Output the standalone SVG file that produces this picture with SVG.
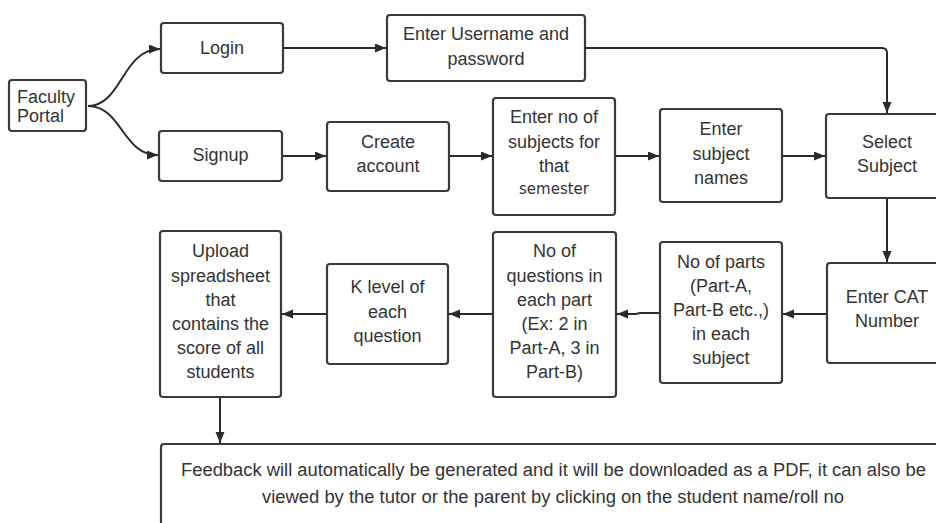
<svg xmlns="http://www.w3.org/2000/svg" width="936" height="523" viewBox="0 0 936 523">
<defs>
<marker id="arr" markerUnits="userSpaceOnUse" markerWidth="12" markerHeight="10" refX="11" refY="4.5" orient="auto">
<path d="M0,0 L11,4.5 L0,9 z" fill="#2a2a2a"/>
</marker>
<style>
.box{fill:#fff;stroke:#3a3a3a;stroke-width:2.2}
.t{font-family:"Liberation Sans",Arial,sans-serif;font-size:18px;fill:#333;text-anchor:middle}
.tl{font-family:"Liberation Sans",Arial,sans-serif;font-size:18px;fill:#333}
.sm{font-family:"DejaVu Sans",Verdana,sans-serif;font-size:15px;fill:#333;text-anchor:middle}
.c{fill:none;stroke:#2a2a2a;stroke-width:2;marker-end:url(#arr)}
</style>
</defs>
<rect width="936" height="523" fill="#fff"/>
<g id="connectors">
<path class="c" d="M88 106 C122 106 122 49 160 49"/>
<path class="c" d="M88 106 C122 106 122 155 158 155"/>
<path class="c" d="M283 48 H386"/>
<path class="c" d="M585 48 H882 Q887 48 887 53 V113"/>
<path class="c" d="M282 156 H326"/>
<path class="c" d="M449 156 H492"/>
<path class="c" d="M615 156 H659"/>
<path class="c" d="M782 156 H825"/>
<path class="c" d="M887 198 V262"/>
<path class="c" d="M827 314 H783"/>
<path class="c" d="M660 313 H640 L636 314 H617"/>
<path class="c" d="M493 314 H449"/>
<path class="c" d="M327 314 H282"/>
<path class="c" d="M220 397 V443"/>
</g>
<g id="portal"><rect class="box" x="9" y="80" width="77" height="51" rx="3"/><text class="tl" x="17" y="103">Faculty</text><text class="tl" x="17" y="122">Portal</text></g>
<g id="login"><rect class="box" x="161" y="23" width="122" height="50" rx="3"/><text class="t" x="222" y="54">Login</text></g>
<g id="signup"><rect class="box" x="159" y="131" width="123" height="50" rx="3"/><text class="t" x="220.5" y="161">Signup</text></g>
<g id="username"><rect class="box" x="387" y="15" width="198" height="66" rx="3"/><text class="t" x="486" y="40">Enter Username and</text><text class="t" x="486" y="65">password</text></g>
<g id="create"><rect class="box" x="327" y="122" width="122" height="69" rx="3"/><text class="t" x="388" y="148">Create</text><text class="t" x="388" y="172">account</text></g>
<g id="nosubjects"><rect class="box" x="493" y="98" width="122" height="117" rx="3"/><text class="t" x="554" y="123">Enter no of</text><text class="t" x="554" y="148">subjects for</text><text class="t" x="554" y="172">that</text><text class="sm" x="554" y="194">semester</text></g>
<g id="subjectnames"><rect class="box" x="660" y="109" width="122" height="93" rx="3"/><text class="t" x="721" y="135">Enter</text><text class="t" x="721" y="160">subject</text><text class="t" x="721" y="184">names</text></g>
<g id="selectsubject"><rect class="box" x="826" y="114" width="122" height="84" rx="3"/><text class="t" x="887" y="148">Select</text><text class="t" x="887" y="172">Subject</text></g>
<g id="catnumber"><rect class="box" x="827" y="263" width="121" height="100" rx="3"/><text class="t" x="887" y="303">Enter CAT</text><text class="t" x="887" y="327">Number</text></g>
<g id="parts"><rect class="box" x="660" y="242" width="122" height="141" rx="3"/><text class="t" x="721" y="268">No of parts</text><text class="t" x="721" y="292">(Part-A,</text><text class="t" x="721" y="316">Part-B etc.,)</text><text class="t" x="721" y="340">in each</text><text class="t" x="721" y="364">subject</text></g>
<g id="questions"><rect class="box" x="493" y="232" width="123" height="165" rx="3"/><text class="t" x="554.5" y="257">No of</text><text class="t" x="554.5" y="282">questions in</text><text class="t" x="554.5" y="306">each part</text><text class="t" x="554.5" y="330">(Ex: 2 in</text><text class="t" x="554.5" y="354">Part-A, 3 in</text><text class="t" x="554.5" y="378">Part-B)</text></g>
<g id="klevel"><rect class="box" x="327" y="264" width="121" height="100" rx="3"/><text class="t" x="387.5" y="293">K level of</text><text class="t" x="387.5" y="318">each</text><text class="t" x="387.5" y="342">question</text></g>
<g id="upload"><rect class="box" x="160" y="231" width="121" height="166" rx="3"/><text class="t" x="220.5" y="257">Upload</text><text class="t" x="220.5" y="282">spreadsheet</text><text class="t" x="220.5" y="306">that</text><text class="t" x="220.5" y="330">contains the</text><text class="t" x="220.5" y="354">score of all</text><text class="t" x="220.5" y="378">students</text></g>
<g id="feedback"><rect class="box" x="161" y="444" width="785" height="100" rx="3"/><text class="t" x="553.5" y="476" textLength="745" lengthAdjust="spacingAndGlyphs">Feedback will automatically be generated and it will be downloaded as a PDF, it can also be</text><text class="t" x="553" y="503" textLength="582" lengthAdjust="spacingAndGlyphs">viewed by the tutor or the parent by clicking on the student name/roll no</text></g>
</svg>
